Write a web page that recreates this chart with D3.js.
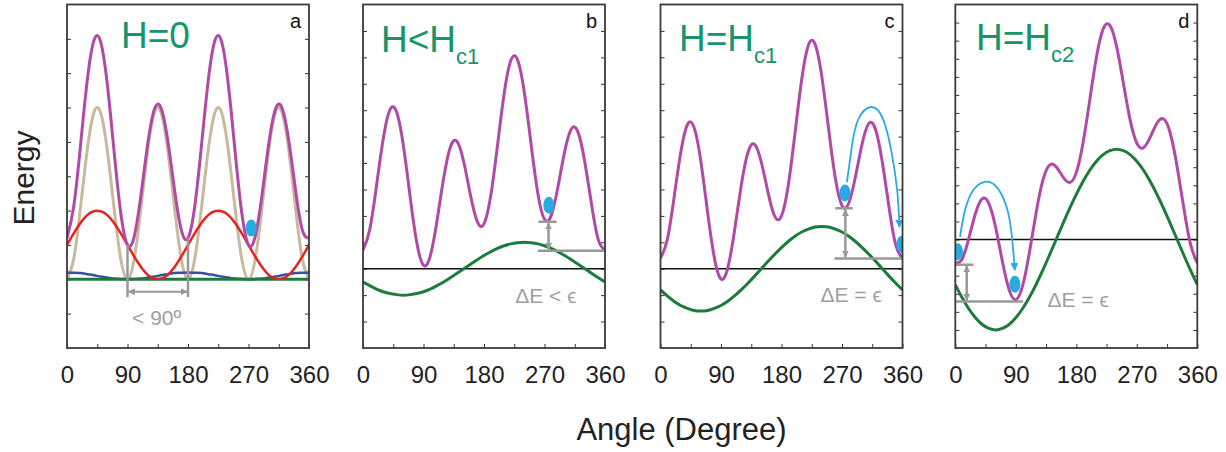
<!DOCTYPE html>
<html>
<head>
<meta charset="utf-8">
<script src="https://cdnjs.cloudflare.com/ajax/libs/d3/7.8.5/d3.min.js"></script>
<style>
body { margin: 0; background: #fff; }
svg { font-family: "Liberation Sans", Arial, sans-serif; }
</style>
</head>
<body>
<script>
// angle grid (degrees) shared by all curves
var angles = [0,10,20,30,40,50,60,70,80,90,100,110,120,130,140,150,160,170,180,
              190,200,210,220,230,240,250,260,270,280,290,300,310,320,330,340,350,360];
var flatAngles = [0, 360];

var tickAngles = [0,45,90,135,180,225,270,315,360];
var labelAngles = [0,90,180,270,360];
var tickLabels = ["0","90","180","270","360"];

var ticksA = [-1,0,1,2,3,4,5,6,7];
var ticksBC = [-2,-1,0,1,2,3,4,5,6,7,8,9];
var ticksD = [-5,-4,-3,-2,-1,0,1,2,3,4,5,6,7,8,9,10,11,12];

// panel a : H = 0
var aPurple = [1.20,2.12,3.88,5.77,6.95,6.92,5.67,3.73,1.93,1.00,1.25,2.45,3.93,4.95,4.98,4.03,2.60,1.44,1.20,
               2.12,3.88,5.77,6.95,6.92,5.67,3.73,1.93,1.00,1.25,2.45,3.93,4.95,4.98,4.03,2.60,1.44,1.20];
var aBeige = [0,0.59,2.07,3.75,4.85,4.85,3.75,2.07,0.59,0,0.59,2.07,3.75,4.85,4.85,3.75,2.07,0.59,0,
              0.59,2.07,3.75,4.85,4.85,3.75,2.07,0.59,0,0.59,2.07,3.75,4.85,4.85,3.75,2.07,0.59,0];
var aRed = [1.00,1.34,1.64,1.87,1.98,1.98,1.87,1.64,1.34,1.00,0.66,0.36,0.13,0.02,0.02,0.13,0.36,0.66,1.00,
            1.34,1.64,1.87,1.98,1.98,1.87,1.64,1.34,1.00,0.66,0.36,0.13,0.02,0.02,0.13,0.36,0.66,1.00];
var aBlue = [0.20,0.19,0.18,0.15,0.12,0.08,0.05,0.02,0.01,0,0.01,0.02,0.05,0.08,0.12,0.15,0.18,0.19,0.20,
             0.19,0.18,0.15,0.12,0.08,0.05,0.02,0.01,0,0.01,0.02,0.05,0.08,0.12,0.15,0.18,0.19,0.20];
var aGreen = [0, 0];

// panel b : H < Hc1
var bPurple = [0.70,1.48,3.12,4.90,6.01,5.93,4.67,2.75,0.99,0.13,0.48,1.80,3.43,4.61,4.81,4.03,2.77,1.78,1.70,
               2.76,4.65,6.63,7.89,7.90,6.67,4.72,2.87,1.87,2.02,3.09,4.43,5.29,5.16,4.03,2.43,1.10,0.70];
var bGreen = [-0.50,-0.64,-0.77,-0.87,-0.94,-0.98,-1.00,-0.98,-0.94,-0.87,-0.77,-0.64,-0.50,-0.34,-0.17,0,0.17,0.34,0.50,
              0.64,0.77,0.87,0.94,0.98,1.00,0.98,0.94,0.87,0.77,0.64,0.50,0.34,0.17,0,-0.17,-0.34,-0.50];

// panel c : H = Hc1
var cPurple = [0.40,1.09,2.66,4.38,5.45,5.34,4.07,2.15,0.43,-0.39,0.02,1.42,3.13,4.40,4.71,4.03,2.88,1.98,2.00,
               3.15,5.11,7.15,8.46,8.49,7.27,5.31,3.44,2.39,2.48,3.48,4.73,5.50,5.26,4.03,2.32,0.89,0.40];
var cGreen = [-0.80,-1.03,-1.23,-1.39,-1.50,-1.58,-1.60,-1.58,-1.50,-1.39,-1.23,-1.03,-0.80,-0.55,-0.28,0,0.28,0.55,0.80,
              1.03,1.23,1.39,1.50,1.58,1.60,1.58,1.50,1.39,1.23,1.03,0.80,0.55,0.28,0,-0.28,-0.55,-0.80];

// panel d : H = Hc2
var dPurple = [-1.30,-1.09,0.05,1.44,2.25,1.99,0.67,-1.20,-2.77,-3.33,-2.58,-0.77,1.43,3.24,4.11,4.03,3.47,3.15,3.70,
               5.34,7.71,10.10,11.65,11.84,10.67,8.66,6.63,5.33,5.08,5.66,6.43,6.66,5.85,4.03,1.73,-0.27,-1.30];
var dGreen = [-2.50,-3.21,-3.83,-4.33,-4.70,-4.92,-5.00,-4.92,-4.70,-4.33,-3.83,-3.21,-2.50,-1.71,-0.87,0,0.87,1.71,2.50,
              3.21,3.83,4.33,4.70,4.92,5.00,4.92,4.70,4.33,3.83,3.21,2.50,1.71,0.87,0,-0.87,-1.71,-2.50];

// annotations (angle, energy)
var gapA = {from: 90, to: 180, tops: [1.00, 1.20], bottom: -0.52, arrow: -0.36};
var gapB = {at: 276, top: 1.78, bottom: 0.68, short: [261, 288], long: [260, 360]};
var gapC = {at: 275, top: 2.29, bottom: 0.39, short: [260, 286], long: [259, 360]};
var gapD = {at: 17, top: -1.39, bottom: -3.43, short: [0, 27], long: [0, 101]};

var dotsA = [[274, 1.49]];
var dotsB = [[276.5, 2.40]];
var dotsC = [[274.4, 2.87], [359, 0.93]];
var dotsD = [[3.3, -0.67], [88.6, -2.47]];

var arcC = [[277.3,3.28],[283.8,4.48],[293.6,5.62],[313.5,6.12],[330.8,5.68],[343.2,4.48],[352.1,2.97],[355.5,1.58]];
var arcD = [[7,0.15],[14.4,1.62],[26.7,2.73],[44,3.19],[61.4,2.91],[76.2,1.81],[83.7,0.34],[88.6,-1.69]];

var notes = [["< 90\u00ba", 133.4, -1.33], ["\u0394E < \u03f5", 272, -1.3], ["\u0394E = \u03f5", 283.5, -1.26], ["\u0394E = \u03f5", 182.7, -3.71]];

// colors
var colPurple = "#b04aa6";
var colBeige = "#c8b99f";
var colRed = "#e5231f";
var colBlue = "#3352a0";
var colGreen = "#1e7b3c";
var colTitle = "#15966a";
var colLight = "#29abe2";
var colGray = "#999999";

var plotTop = 4.5, plotBottom = 348, pw = 242;

var panels = [
    {left: 67, yDomain: [-2, 8], yTicks: ticksA, title: "H=0", sub: "", tx: 54, ty: 48, label: "a", ref: false,
     curves: [[angles, aBeige, colBeige, 3], [angles, aBlue, colBlue, 2.5], [flatAngles, aGreen, colGreen, 3],
              [angles, aRed, colRed, 2.5], [angles, aPurple, colPurple, 3]],
     dots: dotsA, arc: null, note: notes[0]},
    {left: 363, yDomain: [-3, 10], yTicks: ticksBC, title: "H<H", sub: "c1", tx: 18, ty: 51.5, label: "b", ref: true,
     curves: [[angles, bPurple, colPurple, 3], [angles, bGreen, colGreen, 3]],
     dots: dotsB, arc: null, gap: gapB, note: notes[1]},
    {left: 660.5, yDomain: [-3, 10], yTicks: ticksBC, title: "H=H", sub: "c1", tx: 18.5, ty: 50.5, label: "c", ref: true,
     curves: [[angles, cPurple, colPurple, 3], [angles, cGreen, colGreen, 3]],
     dots: dotsC, arc: arcC, gap: gapC, note: notes[2]},
    {left: 955.3, yDomain: [-6, 13], yTicks: ticksD, title: "H=H", sub: "c2", tx: 20.7, ty: 50, label: "d", ref: true,
     curves: [[angles, dPurple, colPurple, 3], [angles, dGreen, colGreen, 3]],
     dots: dotsD, arc: arcD, gap: gapD, note: notes[3]}
];

var svg = d3.select("body").append("svg")
    .attr("width", 1226)
    .attr("height", 452);

var defs = svg.append("defs");

function addMarker(id, color, size) {
    defs.append("marker")
        .attr("id", id)
        .attr("viewBox", "0 0 10 10")
        .attr("refX", 9)
        .attr("refY", 5)
        .attr("markerWidth", size)
        .attr("markerHeight", size)
        .attr("markerUnits", "userSpaceOnUse")
        .attr("orient", "auto-start-reverse")
        .append("path")
        .attr("d", "M0,0L10,5L0,10z")
        .attr("fill", color);
}
addMarker("arrGray", colGray, 7);
addMarker("arrBlue", colLight, 8);

panels.forEach(function(p, i) {
    var x = d3.scaleLinear().domain([0, 360]).range([p.left, p.left + pw]);
    var y = d3.scaleLinear().domain(p.yDomain).range([plotBottom, plotTop]);
    var g = svg.append("g");

    defs.append("clipPath").attr("id", "clip" + i)
        .append("rect")
        .attr("x", p.left).attr("y", plotTop)
        .attr("width", pw).attr("height", plotBottom - plotTop);

    // ticks
    g.append("g")
        .attr("transform", "translate(0," + plotBottom + ")")
        .call(d3.axisBottom(x).tickValues(tickAngles).tickSize(-4).tickPadding(18)
            .tickFormat(function(d) {
                var j = labelAngles.indexOf(d);
                return j < 0 ? "" : tickLabels[j];
            }))
        .call(function(a) {
            a.select(".domain").remove();
            a.selectAll("line").attr("stroke", "#333");
            a.selectAll("text").attr("font-size", 24).attr("fill", "#222")
                .attr("font-family", "Liberation Sans, Arial, sans-serif");
        });
    g.append("g")
        .attr("transform", "translate(" + p.left + ",0)")
        .call(d3.axisLeft(y).tickValues(p.yTicks).tickSize(-4).tickFormat(""))
        .call(function(a) {
            a.select(".domain").remove();
            a.selectAll("line").attr("stroke", "#333");
        });
    g.append("g")
        .attr("transform", "translate(" + (p.left + pw) + ",0)")
        .call(d3.axisRight(y).tickValues(p.yTicks).tickSize(-4).tickFormat(""))
        .call(function(a) {
            a.select(".domain").remove();
            a.selectAll("line").attr("stroke", "#333");
        });

    var inner = g.append("g").attr("clip-path", "url(#clip" + i + ")");

    if (p.ref) {
        inner.append("line")
            .attr("x1", x(0)).attr("x2", x(360))
            .attr("y1", y(0)).attr("y2", y(0))
            .attr("stroke", "#111").attr("stroke-width", 1.5);
    }

    var line = d3.line()
        .x(function(d) { return x(d[0]); })
        .y(function(d) { return y(d[1]); })
        .curve(d3.curveNatural);

    p.curves.forEach(function(c) {
        inner.append("path")
            .datum(d3.zip(c[0], c[1]))
            .attr("d", line)
            .attr("fill", "none")
            .attr("stroke", c[2])
            .attr("stroke-width", c[3]);
    });

    // energy-gap markers
    var gray = inner.append("g").attr("stroke", colGray).attr("stroke-width", 2.5).attr("fill", "none");
    if (i === 0) {
        [gapA.from, gapA.to].forEach(function(a, k) {
            gray.append("line")
                .attr("x1", x(a)).attr("x2", x(a))
                .attr("y1", y(gapA.tops[k])).attr("y2", y(gapA.bottom));
        });
        gray.append("line")
            .attr("x1", x(gapA.from) + 1).attr("x2", x(gapA.to) - 1)
            .attr("y1", y(gapA.arrow)).attr("y2", y(gapA.arrow))
            .attr("stroke-width", 2)
            .attr("marker-start", "url(#arrGray)")
            .attr("marker-end", "url(#arrGray)");
    } else {
        var gp = p.gap;
        gray.append("line")
            .attr("x1", x(gp.short[0])).attr("x2", x(gp.short[1]))
            .attr("y1", y(gp.top)).attr("y2", y(gp.top));
        gray.append("line")
            .attr("x1", x(gp.long[0])).attr("x2", x(gp.long[1]))
            .attr("y1", y(gp.bottom)).attr("y2", y(gp.bottom));
        gray.append("line")
            .attr("x1", x(gp.at)).attr("x2", x(gp.at))
            .attr("y1", y(gp.top) + 1.5).attr("y2", y(gp.bottom) - 1.5)
            .attr("stroke-width", 2.5)
            .attr("marker-start", "url(#arrGray)")
            .attr("marker-end", "url(#arrGray)");
    }

    if (p.arc) {
        inner.append("path")
            .datum(p.arc)
            .attr("d", line)
            .attr("fill", "none")
            .attr("stroke", colLight)
            .attr("stroke-width", 1.8)
            .attr("marker-end", "url(#arrBlue)");
    }

    inner.selectAll("ellipse.dot")
        .data(p.dots)
        .enter()
        .append("ellipse")
        .attr("class", "dot")
        .attr("cx", function(d) { return x(d[0]); })
        .attr("cy", function(d) { return y(d[1]); })
        .attr("rx", 5.5)
        .attr("ry", 8.5)
        .attr("fill", colLight);

    g.append("text")
        .attr("x", x(p.note[1]))
        .attr("y", y(p.note[2]))
        .attr("text-anchor", "middle")
        .attr("font-size", 21)
        .attr("fill", "#a0a0a0")
        .text(p.note[0]);

    // title with subscript
    var t = g.append("text")
        .attr("x", p.left + p.tx)
        .attr("y", p.ty)
        .attr("font-size", 37)
        .attr("fill", colTitle)
        .text(p.title);
    if (p.sub) {
        t.append("tspan")
            .attr("dy", 12)
            .attr("font-size", 22)
            .text(p.sub);
    }

    g.append("text")
        .attr("x", p.left + pw - 8)
        .attr("y", 28)
        .attr("text-anchor", "end")
        .attr("font-size", 20)
        .attr("fill", "#111")
        .text(p.label);

    g.append("rect")
        .attr("x", p.left).attr("y", plotTop)
        .attr("width", pw).attr("height", plotBottom - plotTop)
        .attr("fill", "none")
        .attr("stroke", "#3a3a3a")
        .attr("stroke-width", 1.8);
});

svg.append("text")
    .attr("x", 681.5)
    .attr("y", 440)
    .attr("text-anchor", "middle")
    .attr("font-size", 31)
    .attr("fill", "#222")
    .text("Angle (Degree)");

svg.append("text")
    .attr("transform", "translate(34,178) rotate(-90)")
    .attr("text-anchor", "middle")
    .attr("font-size", 30)
    .attr("fill", "#222")
    .text("Energy");
</script>
</body>
</html>
